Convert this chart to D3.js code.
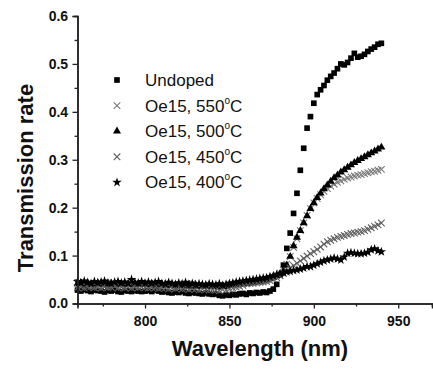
<!DOCTYPE html>
<html>
<head>
<meta charset="utf-8">
<script src="https://cdn.jsdelivr.net/npm/d3@7"></script>
<style>
  body { margin: 0; background: #fff; }
  text { font-family: "Liberation Sans", Arial, sans-serif; }
</style>
</head>
<body>
<svg id="chart" width="433" height="370"></svg>
<script>
// wavelengths (nm), shared by all series
const wavelengths = [
  760,762,764,766,768,770,772,774,776,778,780,782,784,786,788,790,792,794,796,798,
  800,802,804,806,808,810,812,814,816,818,820,822,824,826,828,830,832,834,836,838,
  840,842,844,846,848,850,852,854,856,858,860,862,864,866,868,870,872,874,876,878,
  880,882,884,886,888,890,892,894,896,898,900,902,904,906,908,910,912,914,916,918,
  920,922,924,926,928,930,932,934,936,938,940
];

const undoped = [
  0.028,0.026,0.029,0.027,0.025,0.028,0.027,0.026,0.024,0.027,0.026,0.028,0.025,0.024,0.027,0.026,0.025,0.027,0.026,0.025,
  0.026,0.027,0.025,0.028,0.026,0.024,0.025,0.023,0.022,0.024,0.023,0.025,0.022,0.021,0.023,0.022,0.021,0.020,0.022,0.020,
  0.019,0.020,0.017,0.016,0.018,0.017,0.019,0.018,0.020,0.021,0.019,0.022,0.021,0.023,0.022,0.024,0.023,0.026,0.030,0.040,
  0.060,0.080,0.115,0.147,0.188,0.230,0.278,0.324,0.366,0.390,0.418,0.436,0.446,0.455,0.466,0.474,0.481,0.490,0.500,0.498,
  0.503,0.512,0.522,0.514,0.516,0.520,0.526,0.531,0.535,0.541,0.543
];

const oe550 = [
  0.043,0.040,0.044,0.041,0.042,0.039,0.043,0.041,0.040,0.044,0.042,0.040,0.041,0.043,0.040,0.042,0.041,0.039,0.042,0.040,
  0.041,0.040,0.042,0.039,0.041,0.038,0.040,0.039,0.038,0.040,0.037,0.039,0.038,0.036,0.042,0.037,0.038,0.036,0.037,0.035,
  0.036,0.035,0.037,0.036,0.038,0.039,0.040,0.041,0.043,0.042,0.044,0.045,0.046,0.047,0.048,0.050,0.051,0.053,0.056,0.059,
  0.063,0.070,0.082,0.098,0.117,0.135,0.152,0.168,0.184,0.198,0.210,0.219,0.227,0.234,0.240,0.245,0.249,0.253,0.256,0.259,
  0.262,0.264,0.266,0.268,0.269,0.271,0.273,0.275,0.276,0.278,0.280
];

const oe500 = [
  0.041,0.043,0.040,0.042,0.039,0.041,0.043,0.040,0.042,0.038,0.041,0.040,0.043,0.039,0.041,0.040,0.042,0.039,0.040,0.041,
  0.040,0.039,0.041,0.038,0.040,0.039,0.037,0.039,0.038,0.036,0.038,0.037,0.036,0.038,0.035,0.037,0.036,0.035,0.037,0.036,
  0.035,0.036,0.034,0.036,0.035,0.037,0.038,0.039,0.040,0.041,0.042,0.043,0.044,0.045,0.046,0.047,0.049,0.052,0.055,0.058,
  0.062,0.068,0.080,0.098,0.120,0.138,0.152,0.168,0.183,0.198,0.210,0.221,0.230,0.239,0.247,0.255,0.262,0.268,0.274,0.279,
  0.284,0.289,0.294,0.298,0.302,0.306,0.310,0.314,0.318,0.322,0.326
];

const oe450 = [
  0.033,0.035,0.032,0.034,0.036,0.033,0.034,0.032,0.035,0.033,0.034,0.036,0.032,0.034,0.033,0.035,0.032,0.034,0.033,0.035,
  0.033,0.032,0.034,0.033,0.031,0.033,0.032,0.030,0.032,0.031,0.033,0.030,0.031,0.029,0.031,0.030,0.028,0.030,0.029,0.028,
  0.029,0.028,0.027,0.029,0.028,0.030,0.032,0.034,0.036,0.038,0.041,0.042,0.042,0.043,0.044,0.045,0.046,0.048,0.051,0.054,
  0.058,0.063,0.068,0.074,0.079,0.084,0.089,0.094,0.099,0.104,0.108,0.113,0.118,0.124,0.129,0.132,0.135,0.138,0.140,0.142,
  0.144,0.146,0.147,0.149,0.150,0.152,0.155,0.158,0.161,0.164,0.168
];

const oe400 = [
  0.046,0.043,0.047,0.044,0.042,0.046,0.043,0.045,0.047,0.043,0.042,0.045,0.046,0.043,0.045,0.042,0.050,0.044,0.043,0.046,
  0.043,0.045,0.042,0.044,0.046,0.042,0.041,0.044,0.042,0.040,0.043,0.041,0.044,0.040,0.042,0.039,0.041,0.040,0.039,0.041,
  0.040,0.039,0.041,0.038,0.040,0.042,0.043,0.045,0.046,0.047,0.048,0.049,0.050,0.051,0.052,0.053,0.054,0.056,0.058,0.060,
  0.062,0.064,0.066,0.067,0.069,0.070,0.072,0.074,0.077,0.077,0.080,0.083,0.086,0.089,0.091,0.093,0.095,0.093,0.091,0.097,
  0.105,0.106,0.105,0.104,0.104,0.105,0.107,0.112,0.114,0.110,0.108
];

const xTicks = [800, 850, 900, 950];
const yTicks = [0.0, 0.1, 0.2, 0.3, 0.4, 0.5, 0.6];

const series = [
  { name: 'Undoped', temp: null, values: undoped, shape: 'square', color: '#000' },
  { name: 'Oe15, 550', temp: 'C', values: oe550, shape: 'x', color: '#7a7a7a' },
  { name: 'Oe15, 500', temp: 'C', values: oe500, shape: 'triangle', color: '#000' },
  { name: 'Oe15, 450', temp: 'C', values: oe450, shape: 'x', color: '#5e5e5e' },
  { name: 'Oe15, 400', temp: 'C', values: oe400, shape: 'star', color: '#000' }
];

const svg = d3.select('#chart');
const margin = { top: 16, right: 1, bottom: 66, left: 77.5 };
const width = 433, height = 370;

const x = d3.scaleLinear().domain([760, 970]).range([margin.left, width - margin.right]);
const y = d3.scaleLinear().domain([0, 0.6]).range([height - margin.bottom - 0.5, margin.top]);

function markerPath(shape) {
  if (shape === 'square') return d3.symbol(d3.symbolSquare, 32)();
  if (shape === 'triangle') return d3.symbol(d3.symbolTriangle, 28)();
  if (shape === 'star') return d3.symbol(d3.symbolStar, 28)();
  const r = 3.3;
  return `M${-r},${-r}L${r},${r}M${-r},${r}L${r},${-r}`;
}

function styleMarker(sel, s) {
  if (s.shape === 'x') {
    sel.attr('fill', 'none').attr('stroke', s.color).attr('stroke-width', 1.1);
  } else {
    sel.attr('fill', s.color).attr('stroke', 'none');
  }
}

// data points
series.forEach((s) => {
  const g = svg.append('g');
  const pts = g.selectAll('path')
    .data(s.values.map((v, i) => [wavelengths[i], v]))
    .join('path')
    .attr('d', markerPath(s.shape))
    .attr('transform', (d) => `translate(${x(d[0])},${y(d[1])})`);
  styleMarker(pts, s);
});

// axes
const xAxis = d3.axisBottom(x).tickValues(xTicks).tickSize(5).tickFormat(d3.format('d'));
const xMinor = d3.axisBottom(x).tickValues([775, 825, 875, 925]).tickSize(3).tickFormat('');
const yAxis = d3.axisLeft(y).tickValues(yTicks).tickSize(5).tickFormat(d3.format('.1f'));
const yMinor = d3.axisLeft(y).tickValues([0.05, 0.15, 0.25, 0.35, 0.45, 0.55]).tickSize(3).tickFormat('');

const xg = svg.append('g').attr('transform', `translate(0,${y(0)})`);
xg.call(xAxis);
xg.append('g').call(xMinor);
const yg = svg.append('g').attr('transform', `translate(${margin.left},0)`);
yg.call(yAxis);
yg.append('g').call(yMinor);

svg.selectAll('.domain').attr('stroke', '#222').attr('stroke-width', 1.5);
svg.selectAll('.tick line').attr('stroke', '#222').attr('stroke-width', 1.3);
xg.selectAll('.tick text').attr('font-size', 14).attr('font-weight', 'bold')
  .attr('font-family', '"Liberation Sans", Arial, sans-serif').attr('fill', '#111').attr('dy', '1.05em');
yg.selectAll('.tick text').attr('font-size', 14).attr('font-weight', 'bold')
  .attr('font-family', '"Liberation Sans", Arial, sans-serif').attr('fill', '#111').attr('dx', '-0.1em');

// axis titles
svg.append('text')
  .attr('x', 260).attr('y', 356)
  .attr('text-anchor', 'middle')
  .attr('font-size', 22).attr('font-weight', 'bold').attr('fill', '#111')
  .text('Wavelength (nm)');

svg.append('text')
  .attr('transform', 'translate(33,178) rotate(-90)')
  .attr('text-anchor', 'middle')
  .attr('font-size', 22).attr('font-weight', 'bold').attr('fill', '#111')
  .text('Transmission rate');

// legend
const legend = svg.append('g');
series.forEach((s, i) => {
  const cy = 80 + i * 25.6;
  const m = legend.append('path')
    .attr('d', markerPath(s.shape))
    .attr('transform', `translate(117,${cy})`);
  styleMarker(m, s);
  const t = legend.append('text')
    .attr('x', 145).attr('y', cy + 6)
    .attr('font-size', 17).attr('fill', '#111');
  t.append('tspan').text(s.name);
  if (s.temp) {
    t.append('tspan').attr('font-size', 10).attr('dy', -8).text('o');
    t.append('tspan').attr('dy', 8).text(s.temp);
  }
});
</script>
</body>
</html>
